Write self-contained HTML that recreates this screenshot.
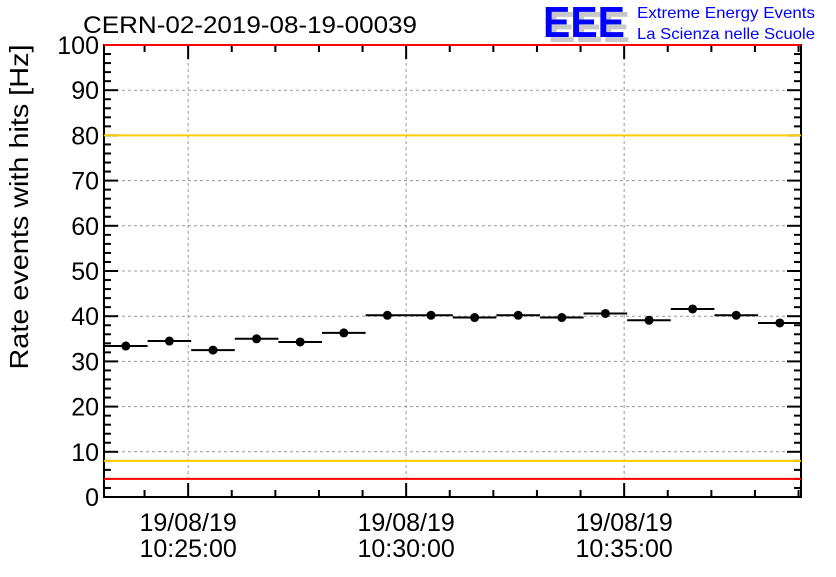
<!DOCTYPE html>
<html><head><meta charset="utf-8"><style>
body{margin:0;background:#fff}
svg text{font-family:"Liberation Sans",Arial,sans-serif}
</style></head><body>
<svg width="836" height="572" viewBox="0 0 836 572" id="chart">
<rect width="836" height="572" fill="#fff"/>
<text x="83" y="33" font-size="24" textLength="334" lengthAdjust="spacingAndGlyphs">CERN-02-2019-08-19-00039</text>
<g>
<text x="548" y="42" font-size="44" fill="#c8c8c8" font-weight="bold" textLength="82" lengthAdjust="spacingAndGlyphs">EEE</text>
<text x="543" y="37" font-size="44" fill="#0000ff" font-weight="bold" textLength="82" lengthAdjust="spacingAndGlyphs">EEE</text>
<text x="637" y="18" font-size="16" fill="#0000ff" textLength="178" lengthAdjust="spacingAndGlyphs">Extreme Energy Events</text>
<text x="637" y="39" font-size="16" fill="#0000ff" textLength="178" lengthAdjust="spacingAndGlyphs">La Scienza nelle Scuole</text>
</g>
<text transform="translate(28,207) rotate(-90)" text-anchor="middle" font-size="26" textLength="325" lengthAdjust="spacingAndGlyphs">Rate events with hits [Hz]</text>
<g id="grid"></g><g id="marks"></g><g id="axes"></g><g id="lines"></g>
</svg>
<script>
const values=[33.4,34.5,32.5,35.0,34.3,36.3,40.2,40.2,39.7,40.2,39.7,40.6,39.1,41.6,40.2,38.5];
const yTicks=[0,10,20,30,40,50,60,70,80,90,100];
const xTickLabels=["10:25:00","10:30:00","10:35:00"];
const xTickMinutes=[25,30,35];
const dateLabel="19/08/19";
const thresholds=[{v:80,c:"#ffcc00"},{v:8,c:"#ffcc00"},{v:100,c:"#ff0000"},{v:4,c:"#ff0000"}];
const L=104,R=801,T=45,B=497;
const startMin=23.07, binW=1;
const minPx=43.6;
const X=m=>L+(m-startMin)*minPx;
const Y=v=>B-(v/100)*(B-T);
const NS="http://www.w3.org/2000/svg";
function mk(p,t,a){const e=document.createElementNS(NS,t);for(const k in a)e.setAttribute(k,a[k]);document.getElementById(p).appendChild(e);return e;}
yTicks.forEach(v=>{if(v>0&&v<100){const g=mk("grid","line",{x1:L,x2:R,y1:Y(v),y2:Y(v),stroke:"#999","stroke-dasharray":"3,3"});

}});
xTickMinutes.forEach(m=>{const g=mk("grid","line",{x1:X(m),x2:X(m),y1:T,y2:B,stroke:"#999","stroke-dasharray":"3,3"});

});
values.forEach((v,i)=>{const x0=X(startMin+i*binW),x1=X(startMin+(i+1)*binW);
const h=mk("marks","line",{x1:x0,x2:x1,y1:Y(v),y2:Y(v),stroke:"#000","stroke-width":2});


const c=mk("marks","circle",{cx:(x0+x1)/2,cy:Y(v),r:4.5,fill:"#000"});

});
const fr=mk("axes","rect",{x:L,y:T,width:R-L,height:B-T,fill:"none",stroke:"#000","stroke-width":2});


for(let v=0;v<=100;v+=2){const len=v%10==0?14:7;
mk("axes","line",{x1:L,x2:L+len,y1:Y(v),y2:Y(v),stroke:"#000","stroke-width":2});
mk("axes","line",{x1:R-len,x2:R,y1:Y(v),y2:Y(v),stroke:"#000","stroke-width":2});}
yTicks.forEach(v=>{const t=mk("axes","text",{x:L-5,y:Y(v)+9,"text-anchor":"end","font-size":25});t.textContent=v;

});
for(let m=24;m<=39;m++){const x=X(m);if(x>R)break;const len=xTickMinutes.includes(m)?14:7;
mk("axes","line",{x1:x,x2:x,y1:B-len,y2:B,stroke:"#000","stroke-width":2});
mk("axes","line",{x1:x,x2:x,y1:T,y2:T+len,stroke:"#000","stroke-width":2});}
xTickMinutes.forEach((m,i)=>{const t1=mk("axes","text",{x:X(m),y:531,"text-anchor":"middle","font-size":25});t1.textContent=dateLabel;


const t2=mk("axes","text",{x:X(m),y:557,"text-anchor":"middle","font-size":25});t2.textContent=xTickLabels[i];

});
thresholds.forEach(t=>{const e=mk("lines","line",{x1:L,x2:R,y1:Y(t.v),y2:Y(t.v),stroke:t.c,"stroke-width":2});

});
</script>
</body></html>
